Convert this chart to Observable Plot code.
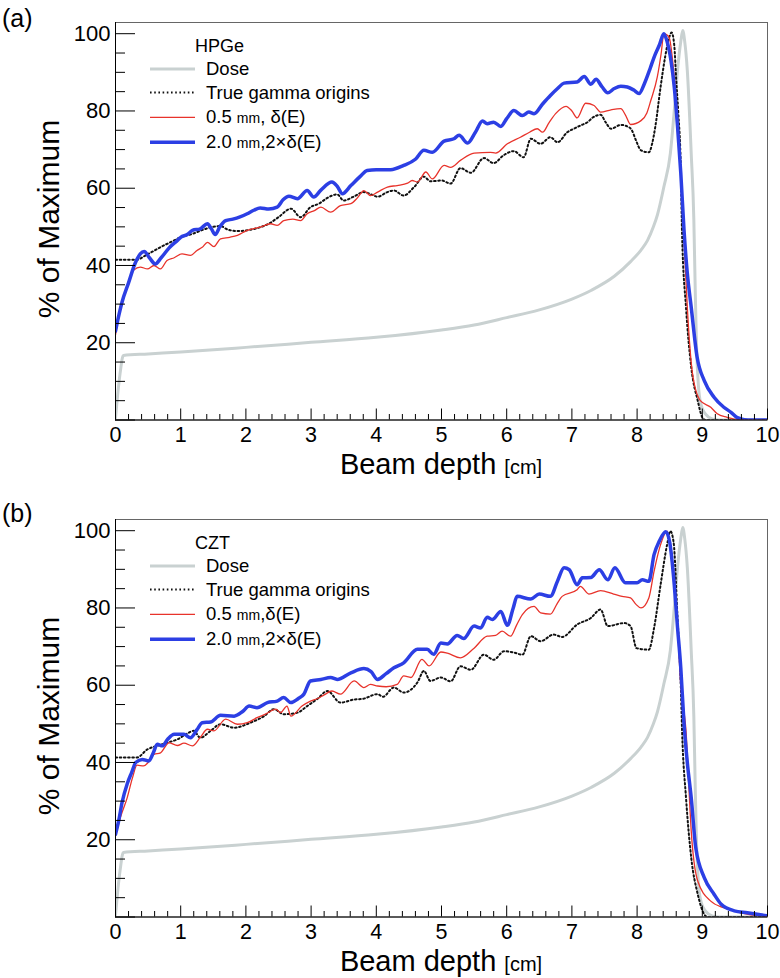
<!DOCTYPE html>
<html><head><meta charset="utf-8">
<script src="https://cdn.jsdelivr.net/npm/d3@7"></script>
<script src="https://cdn.jsdelivr.net/npm/@observablehq/plot@0.6"></script>
<style>
body{margin:0;background:#fff;}
#fig{position:relative;width:780px;height:978px;font-family:"Liberation Sans",Arial,Helvetica,sans-serif;}
.panel{position:absolute;left:0;width:780px;height:480px;}
.panel svg.overlay{position:absolute;left:0;top:0;pointer-events:none;}
</style></head><body><div id="fig"></div>
<script>
// ---------- tick values ----------
const xMajor = [0,1,2,3,4,5,6,7,8,9,10];
const xMinor = d3.range(0, 10.001, 0.2).filter(v => Math.abs(v - Math.round(v)) > 1e-6);
const yMajor = [0,20,40,60,80,100];
const yMinor = [5,10,15,25,30,35,45,50,55,65,70,75,85,90,95];

// ---------- data: [depth cm, % of maximum] ----------
const dose = [[0,0.5],[0.03,6],[0.07,12],[0.12,16.7],[0.5,17.1],[1,17.6],[2,18.8],[3,20.1],[4,21.4],[5,23.3],[5.5,24.6],[6,26.5],[6.5,28.5],[7,31.3],[7.3,33.6],[7.65,37.2],[7.9,41],[8.06,44],[8.16,46.5],[8.25,50],[8.31,53],[8.41,60.3],[8.51,69],[8.57,80],[8.62,90.5],[8.67,98],[8.7,100.8],[8.73,98],[8.77,90.5],[8.83,69],[8.87,52],[8.89,35],[8.91,20],[8.94,9],[8.98,4],[9.05,1.5],[9.15,0.3],[9.25,0],[10,0]];

const hpgeTrue = [[0,41.5],[0.33,41.5],[0.45,42.5],[0.59,43.8],[0.72,45],[0.84,46],[1.0,47.3],[1.2,48.3],[1.35,49.3],[1.5,50.0],[1.61,50.2],[1.72,49.3],[1.87,48.9],[2.05,49.2],[2.2,49.8],[2.35,50.8],[2.5,52.5],[2.69,54.7],[2.84,52.5],[2.99,55.1],[3.12,56],[3.25,57.5],[3.4,58.4],[3.5,56.8],[3.65,57.8],[3.81,59.0],[3.92,58.4],[4.02,57.8],[4.17,59.0],[4.27,59.4],[4.42,58.1],[4.58,60.3],[4.73,63.0],[4.83,61.8],[5.0,62.0],[5.14,61.2],[5.29,65.2],[5.45,64.0],[5.65,67.8],[5.8,66.5],[5.95,68.5],[6.11,69.6],[6.26,68.0],[6.37,72.8],[6.52,71.5],[6.67,73.2],[6.78,71.9],[6.93,74.5],[7.03,75.4],[7.14,76.3],[7.24,77.1],[7.32,78.3],[7.44,79.0],[7.52,77],[7.6,75.4],[7.75,76.4],[7.85,76.0],[7.92,75],[7.98,72.5],[8.06,69.8],[8.18,69.3],[8.23,71.5],[8.28,76],[8.36,86.2],[8.43,94],[8.47,97.5],[8.53,100.3],[8.57,97],[8.6,88],[8.63,80],[8.67,65.4],[8.69,48],[8.75,29.2],[8.83,13.7],[8.93,5.0],[9.0,0.7],[9.05,0],[10,0]];

const hpgeRed = [[0,22],[0.04,26],[0.08,29.2],[0.15,33],[0.22,36.5],[0.28,38.8],[0.38,39.6],[0.49,39.1],[0.59,40.0],[0.69,39.1],[0.79,41.3],[0.9,42],[1.02,43.0],[1.15,42.6],[1.25,43.9],[1.33,44.7],[1.41,46.0],[1.51,44.9],[1.61,46.9],[1.75,47.3],[1.87,47.8],[2.02,49.1],[2.22,49.9],[2.38,50.8],[2.48,50.4],[2.58,51.6],[2.72,52.0],[2.84,51.6],[2.94,53.4],[3.05,54.2],[3.15,55.1],[3.3,53.8],[3.45,55.5],[3.61,56.0],[3.71,57.5],[3.81,59.4],[3.91,58.1],[4.02,59.0],[4.17,60.3],[4.32,60.7],[4.48,61.3],[4.55,62.0],[4.63,61.6],[4.76,64.2],[4.86,62.4],[5.04,65.9],[5.14,65.4],[5.29,67.2],[5.5,69.1],[5.75,69.3],[5.83,69.1],[6.01,71.5],[6.21,73.2],[6.35,74.5],[6.47,75.4],[6.55,74.5],[6.65,77],[6.75,79.3],[6.91,81.2],[7.0,80],[7.08,78.2],[7.21,82.0],[7.34,81.4],[7.44,79.7],[7.6,80.3],[7.75,80.6],[7.82,79],[7.9,76.5],[8.06,77.5],[8.15,79.5],[8.21,82.7],[8.31,88.8],[8.37,95],[8.41,100],[8.49,99.1],[8.56,90.5],[8.62,78],[8.67,64.6],[8.72,46.5],[8.77,29.2],[8.85,12.0],[8.97,5.0],[9.13,3.3],[9.23,1.6],[9.38,0.7],[9.55,0.1],[10,0]];

const hpgeBlue = [[0,23],[0.05,27],[0.1,30.5],[0.2,35.5],[0.3,40.5],[0.38,43],[0.44,43.6],[0.52,42],[0.61,40.4],[0.7,42],[0.82,44.5],[0.95,46.5],[1.0,47.3],[1.1,48],[1.18,49.1],[1.3,49.5],[1.41,50.8],[1.47,49.5],[1.53,48.0],[1.6,50],[1.69,51.6],[1.8,52],[1.9,52.5],[2.02,53.4],[2.12,54.3],[2.22,54.9],[2.35,54.6],[2.48,55.1],[2.57,57],[2.66,57.9],[2.79,57.3],[2.94,59.4],[3.04,57.7],[3.15,59.5],[3.32,61.6],[3.4,60.5],[3.48,58.6],[3.61,60.7],[3.75,63],[3.86,64.6],[4.0,64.8],[4.22,64.8],[4.42,65.9],[4.6,67.5],[4.73,69.8],[4.86,69.3],[5.04,72.2],[5.19,72.8],[5.27,73.7],[5.4,71.7],[5.52,74.5],[5.63,77.4],[5.7,76.7],[5.8,77.1],[5.91,76.0],[6.0,78],[6.11,80.1],[6.24,78.8],[6.34,79.7],[6.42,79.3],[6.55,81.8],[6.67,84.0],[6.78,85.8],[6.88,87.2],[7.08,87.5],[7.19,88.9],[7.29,86.9],[7.37,88.2],[7.46,86.3],[7.55,84.7],[7.65,85.8],[7.75,86.4],[7.85,86.2],[7.95,85.4],[8.03,84.5],[8.11,87.0],[8.2,91],[8.26,93.9],[8.34,97],[8.41,100],[8.46,98],[8.52,93],[8.57,86.2],[8.62,76],[8.67,64],[8.72,49],[8.77,38],[8.83,29.2],[8.92,16.3],[9.03,10.2],[9.18,5.9],[9.33,3.3],[9.44,2.0],[9.52,0.8],[9.59,0.3],[9.7,0],[10,0]];

const cztTrue = [[0,41.3],[0.33,41.3],[0.49,43.4],[0.64,44.3],[0.79,45.1],[0.95,46.0],[1.1,47.5],[1.2,48.2],[1.3,46.4],[1.46,48.2],[1.61,49.9],[1.82,49.0],[2.07,50.3],[2.28,52.0],[2.43,53.8],[2.58,52.5],[2.79,52.9],[2.94,54.6],[3.1,56.5],[3.25,58.5],[3.45,55.5],[3.66,56.3],[3.8,56.5],[4.02,57.7],[4.1,57],[4.27,59.4],[4.42,58.1],[4.63,60.7],[4.73,63.7],[4.83,61.1],[4.99,62.0],[5.14,61.0],[5.29,64.9],[5.45,64.0],[5.65,67.9],[5.8,66.6],[5.96,68.8],[6.1,68.5],[6.24,67.9],[6.37,72.7],[6.52,71.4],[6.72,73.1],[6.85,72.5],[7.08,75.7],[7.29,77.4],[7.44,79.6],[7.55,75.3],[7.8,76.1],[7.9,75.3],[7.99,69.6],[8.18,69.2],[8.26,74.8],[8.36,86.0],[8.46,96.4],[8.51,99.9],[8.56,97],[8.62,77.4],[8.67,60.1],[8.69,48.2],[8.75,30.9],[8.83,15.4],[8.93,5.9],[9.03,0.7],[9.08,0],[10,0]];

const cztRed = [[0,21.0],[0.08,26],[0.18,30.9],[0.26,36],[0.33,39.3],[0.43,39.1],[0.5,40],[0.59,42.1],[0.69,42.5],[0.82,45.1],[0.95,44.4],[1.05,45],[1.18,44.3],[1.3,46.5],[1.41,48.6],[1.51,48.2],[1.69,51.2],[1.87,49.9],[2.02,50.3],[2.17,51.6],[2.3,52.5],[2.46,53.8],[2.53,52.9],[2.63,54.6],[2.69,52.0],[2.86,54.6],[2.99,55.9],[3.09,56.5],[3.2,57.5],[3.32,58.5],[3.45,57.7],[3.66,61.1],[3.81,59.4],[3.91,60.2],[4.02,59.8],[4.15,59.6],[4.32,60.2],[4.42,62.4],[4.53,62.0],[4.7,66.7],[4.81,65.0],[4.99,68.6],[5.09,68.3],[5.29,67.1],[5.5,69.6],[5.7,72.7],[5.83,72.9],[5.93,74.0],[6.06,72.7],[6.15,75.5],[6.24,78.3],[6.42,80.4],[6.52,78.7],[6.67,78.4],[6.77,81],[6.85,83.0],[7.08,84.7],[7.13,85.6],[7.26,83.6],[7.44,84.5],[7.64,83.6],[7.77,83.0],[7.9,82.6],[7.98,81],[8.06,80.0],[8.18,82.6],[8.26,89.5],[8.36,96.4],[8.46,99.9],[8.52,95],[8.57,87.8],[8.62,75],[8.67,60.1],[8.72,53],[8.75,48.2],[8.79,35],[8.83,22.3],[8.93,9.3],[9.13,4.1],[9.33,2.4],[9.59,1.1],[9.9,0.3],[10,0.2]];

const cztBlue = [[0,21.4],[0.05,25],[0.1,29.6],[0.18,34.5],[0.25,37.5],[0.31,40.0],[0.41,40.8],[0.51,40.4],[0.58,42.5],[0.64,44.7],[0.72,44.3],[0.8,46],[0.9,47.3],[1.05,47.3],[1.15,46.4],[1.25,48.5],[1.33,50.3],[1.46,50.5],[1.61,52.2],[1.82,52.0],[1.95,53.2],[2.05,54.6],[2.17,54.2],[2.33,55.5],[2.48,55.9],[2.58,56.8],[2.69,55.5],[2.8,56.5],[2.89,57.7],[2.99,61.1],[3.15,61.5],[3.3,62.0],[3.4,61.5],[3.61,63.2],[3.81,64.3],[3.92,63.5],[4.02,61.5],[4.15,63],[4.27,64.5],[4.42,65.8],[4.63,69.3],[4.78,69.3],[4.88,68.0],[4.99,70.9],[5.09,70.7],[5.24,72.9],[5.34,72.1],[5.5,75.3],[5.6,74.8],[5.7,77.6],[5.78,77.0],[5.91,79.1],[6.01,75.5],[6.1,80],[6.16,83.0],[6.37,82.3],[6.5,83.6],[6.67,83.0],[6.78,87],[6.88,90.4],[6.96,89.9],[7.08,86.0],[7.16,87.8],[7.29,87.9],[7.42,89.9],[7.55,87.3],[7.66,90.4],[7.82,86.5],[8.0,86.5],[8.08,87.3],[8.18,86.9],[8.26,93.8],[8.34,97.3],[8.44,99.7],[8.5,97],[8.57,86.0],[8.62,75],[8.67,64.5],[8.72,50],[8.77,40],[8.83,30.9],[8.9,17.9],[9.03,10.2],[9.18,5.9],[9.29,3.3],[9.49,1.6],[9.69,1.1],[10,0.3]];

// ---------- text ----------
const panelLetters = ["(a)", "(b)"];
const detectors = ["HPGe", "CZT"];
const xTitle = "Beam depth", xUnit = "[cm]", yTitle = "% of Maximum";

// ---------- styles ----------
const C = {dose:"#c9d1d1", trueG:"#111", red:"#e8332b", blue:"#2c3fe4"};
const FONT = '"Liberation Sans", Arial, Helvetica, sans-serif';
const DOTS = "1.6,2.6";

function makePanel(trueG, red, blue) {
  const W=780, H=480, mL=115, mR=13, mT=22, mB=60.5;
  const fw = W-mL-mR, fh = H-mT-mB;
  const line = (data, opts) => Plot.line(data, {x: d=>d[0], y: d=>d[1], curve: "monotone-x", clip: true, ...opts});
  return Plot.plot({
    width: W, height: H, marginLeft: mL, marginRight: mR, marginTop: mT, marginBottom: mB,
    style: {fontFamily: FONT, fontSize: "21.5px", color: "#000", background: "transparent", overflow: "visible"},
    x: {domain: [0,10]},
    y: {domain: [0,102.9]},
    marks: [
      Plot.frame({stroke: "#666", strokeWidth: 1}),
      line(dose, {stroke: C.dose, strokeWidth: 3}),
      line(trueG, {stroke: C.trueG, strokeWidth: 2, strokeDasharray: DOTS}),
      line(red, {stroke: C.red, strokeWidth: 1.3}),
      line(blue, {stroke: C.blue, strokeWidth: 3.5}),
      Plot.ruleY(yMajor, {y: d=>d, insetRight: fw-20, stroke: "#000"}),
      Plot.ruleY(yMinor, {y: d=>d, insetRight: fw-10, stroke: "#000"}),
      Plot.ruleX(xMajor, {x: d=>d, insetTop: fh-11, stroke: "#000"}),
      Plot.ruleX(xMinor, {x: d=>d, insetTop: fh-5.5, stroke: "#000"}),
      Plot.ruleX([0], {stroke: "#000"}),
      Plot.ruleY([0], {stroke: "#000"}),
      Plot.axisX({ticks: xMajor, tickSize: 0, tickPadding: 7, label: null, fontSize: 21.5, tickFormat: d=>String(d)}),
      Plot.axisY({ticks: yMajor.filter(d=>d>0), tickSize: 0, tickPadding: 5, label: null, fontSize: 22, tickFormat: d=>String(d)})
    ]
  });
}

function overlay(letter, letterY, det, redLabel) {
  const rows = [75, 98.5, 123.3, 148.3];
  const ly = rows.map(r => r-6);
  return `<svg class="overlay" width="780" height="480" font-family='${FONT}'>
    <text x="2" y="${letterY}" font-size="25">${letter}</text>
    <text transform="translate(59,219) rotate(-90)" text-anchor="middle" font-size="30">${yTitle}</text>
    <text x="441" y="473.5" text-anchor="middle" font-size="29">${xTitle} <tspan font-size="20">${xUnit}</tspan></text>
    <text x="195" y="51.5" font-size="18">${det}</text>
    <line x1="150" x2="195" y1="${ly[0]}" y2="${ly[0]}" stroke="${C.dose}" stroke-width="3"/>
    <line x1="150" x2="195" y1="${ly[1]}" y2="${ly[1]}" stroke="${C.trueG}" stroke-width="2" stroke-dasharray="${DOTS}"/>
    <line x1="150" x2="195" y1="${ly[2]}" y2="${ly[2]}" stroke="${C.red}" stroke-width="1.3"/>
    <line x1="150" x2="195" y1="${ly[3]}" y2="${ly[3]}" stroke="${C.blue}" stroke-width="3.5"/>
    <text x="206" y="${rows[0]}" font-size="18.5">Dose</text>
    <text x="206" y="${rows[1]}" font-size="18.5">True gamma origins</text>
    <text x="206" y="${rows[2]}" font-size="18.5">${redLabel}</text>
    <text x="206" y="${rows[3]}" font-size="18.5">2.0 <tspan font-size="14">mm</tspan>,2×δ(E)</text>
  </svg>`;
}

const fig = document.getElementById("fig");
const specs = [
  {top: 0, trueG: hpgeTrue, red: hpgeRed, blue: hpgeBlue, letterY: 26.5, redLabel: '0.5 <tspan font-size="14">mm</tspan>, δ(E)'},
  {top: 497, trueG: cztTrue, red: cztRed, blue: cztBlue, letterY: 24.5, redLabel: '0.5 <tspan font-size="14">mm</tspan>,δ(E)'}
];
specs.forEach((s, i) => {
  const div = document.createElement("div");
  div.className = "panel";
  div.style.top = s.top + "px";
  const chart = makePanel(s.trueG, s.red, s.blue);
  chart.style.position = "absolute"; chart.style.left = "0"; chart.style.top = "0";
  div.appendChild(chart);
  div.insertAdjacentHTML("beforeend", overlay(panelLetters[i], s.letterY, detectors[i], s.redLabel));
  fig.appendChild(div);
});
</script></body></html>
